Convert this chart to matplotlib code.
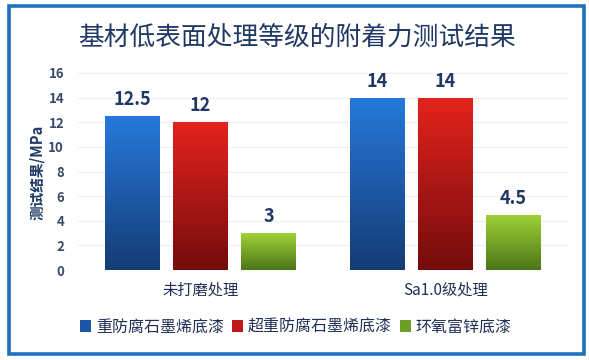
import numpy as np
import matplotlib
matplotlib.use("Agg")
import matplotlib.pyplot as plt
from matplotlib.colors import LinearSegmentedColormap
from matplotlib.patches import Rectangle, Patch

plt.rcParams['font.family'] = ['Noto Sans CJK SC', 'DejaVu Sans']

title = "基材低表面处理等级的附着力测试结果"
categories = ["未打磨处理", "Sa1.0级处理"]
series_names = ["重防腐石墨烯底漆", "超重防腐石墨烯底漆", "环氧富锌底漆"]
values = [
    [12.5, 14],
    [12, 14],
    [3, 4.5],
]
value_labels = [["12.5", "14"], ["12", "14"], ["3", "4.5"]]
yticks = [0, 2, 4, 6, 8, 10, 12, 14, 16]
ylabel = "测试结果/MPa"

grad_top = ["#2679dc", "#e5231d", "#9fd236"]
grad_bot = ["#153c75", "#730c0c", "#4b7619"]
legend_cols = ["#1d56a6", "#c0191a", "#6c9e26"]

W, H = 589, 360
fig = plt.figure(figsize=(W / 100, H / 100), dpi=100)
fig.patch.set_facecolor("white")

# border
fig.patches.append(Rectangle((9 / W, 6 / H), 575 / W, 348 / H, transform=fig.transFigure,
                             facecolor="none", edgecolor="#1f6fc2", linewidth=2.6))

ax = fig.add_axes([78 / W, 90 / H, 490 / W, 197 / H])
ax.set_xlim(-0.5, 1.5)
ax.set_ylim(0, 16)
ax.set_yticks(yticks)
ax.set_yticklabels([str(t) for t in yticks], fontsize=9.5, fontweight="bold", color="#3b4a68")
ax.tick_params(axis="y", length=0, pad=10)
ax.tick_params(axis="x", length=0, pad=8)
ax.set_xticks(range(len(categories)))
ax.set_xticklabels(categories, fontsize=11, color="#1f2f55")
for s in ax.spines.values():
    s.set_visible(False)
ax.grid(axis="y", color="#efefef", linewidth=0.8)
ax.set_axisbelow(True)

step = 0.278
width = 0.222
x = np.arange(len(categories))
grad = np.linspace(0, 1, 256).reshape(-1, 1)
for i, vals in enumerate(values):
    cmap = LinearSegmentedColormap.from_list(f"g{i}", [grad_bot[i], grad_top[i]])
    bars = ax.bar(x + (i - 1) * step, vals, width, color="none", edgecolor="none", zorder=2)
    for b, lab in zip(bars, value_labels[i]):
        x0, y0 = b.get_x(), b.get_y()
        w, h = b.get_width(), b.get_height()
        im = ax.imshow(grad, extent=[x0, x0 + w, y0, y0 + h], origin="lower",
                       cmap=cmap, aspect="auto", zorder=2)
        im.set_clip_path(b)
        ax.annotate(lab, (x0 + w / 2, y0 + h), xytext=(0, 5), textcoords="offset points",
                    ha="center", va="bottom", fontsize=13, fontweight="bold", color="#1f3864")
ax.set_xlim(-0.5, 1.5)
ax.set_ylim(0, 16)

fig.text(297 / W, 1 - 38 / H, title, ha="center", va="center", fontsize=18.5,
         fontweight="medium", color="#1f3864")
fig.text(37 / W, 1 - 172 / H, ylabel, ha="center", va="center", rotation=90,
         fontsize=10.5, fontweight="bold", color="#1f3864")

handles = [Patch(facecolor=c, edgecolor="none") for c in legend_cols]
fig.legend(handles, series_names, loc="center", bbox_to_anchor=(296 / W, 1 - 327 / H),
           ncol=3, frameon=False, fontsize=11.5, handlelength=0.7, handleheight=0.7,
           handletextpad=0.3, columnspacing=0.5, labelcolor="#1f2f55")

fig.savefig("out.png", dpi=100, facecolor="white")
